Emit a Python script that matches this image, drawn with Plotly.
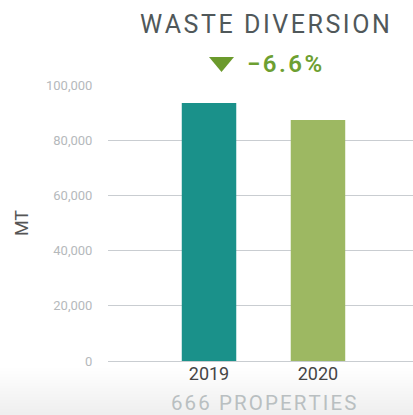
import plotly.graph_objects as go

years = ["2019", "2020"]
values = [93500, 87300]
bar_colors = ["#1a918a", "#9db862"]
title_text = "WASTE DIVERSION"
change_text = "−6.6%"
footer_text = "666 PROPERTIES"
y_ticks = [0, 20000, 40000, 60000, 80000, 100000]

def spaced(s, sp="\u200a"):
    return sp.join(list(s))

W_PLOT, H_PLOT, L, B = 305.0, 276.0, 108, 361
def px(x):
    return (x - L) / W_PLOT
def py(y):
    return (B - y) / H_PLOT

fig = go.Figure()
fig.add_trace(go.Bar(x=years, y=values, marker_color=bar_colors, width=0.5,
                     marker_line_width=0, hoverinfo="skip"))

# subtle bottom gradient (white -> light grey)
n = 16
top_px, bot_px = 368, 415
for i in range(n):
    y_top_px = top_px + (bot_px - top_px) * i / n
    fig.add_shape(type="rect", xref="paper", yref="paper",
                  x0=-0.4, x1=1.05, y0=py(bot_px) - 0.01, y1=py(y_top_px),
                  fillcolor="rgba(228,234,236,0.055)", line_width=0, layer="below")

# down-triangle indicator icon
fig.add_shape(type="path", xref="paper", yref="paper",
              path=f"M {px(209)} {py(57)} L {px(234)} {py(57)} L {px(221.5)} {py(72)} Z",
              fillcolor="#6b9a2c", line_width=0)

fig.update_layout(
    width=413, height=415,
    margin=dict(l=108, r=0, t=85, b=54),
    paper_bgcolor="white", plot_bgcolor="rgba(0,0,0,0)",
    font=dict(family="Roboto", color="#555"),
    showlegend=False,
    xaxis=dict(type="category", range=[-0.927, 1.872], showgrid=False,
               showline=False, zeroline=False, ticks="",
               tickfont=dict(size=18, color="#454545")),
    yaxis=dict(range=[0, 100000], tickvals=y_ticks, tickformat=",d",
               showgrid=True, gridcolor="#c9cdd1", gridwidth=1,
               zeroline=True, zerolinecolor="#c9cdd1", zerolinewidth=1,
               showline=False, ticks="outside", ticklen=12, tickcolor="rgba(0,0,0,0)",
               tickfont=dict(size=13, color="#b5b9bc"),
               title=dict(text="MT", font=dict(size=18, color="#555"), standoff=12)),
    annotations=[
        dict(text=spaced(title_text), xref="paper", yref="paper", x=px(265), y=py(25),
             showarrow=False, xanchor="center", yanchor="middle",
             font=dict(size=25, color="#50585a")),
        dict(text=spaced(change_text),
             xref="paper", yref="paper", x=px(245), y=py(64),
             showarrow=False, xanchor="left", yanchor="middle",
             font=dict(size=24, color="#6d9f31", weight=600)),
        dict(text=spaced(footer_text), xref="paper", yref="paper", x=px(263), y=py(403),
             showarrow=False, xanchor="center", yanchor="middle",
             font=dict(size=20.5, color="#b9bfc1")),
    ],
)

fig.write_html("out.html", config={"displayModeBar": False},
               post_script="document.body.style.margin='0';")
